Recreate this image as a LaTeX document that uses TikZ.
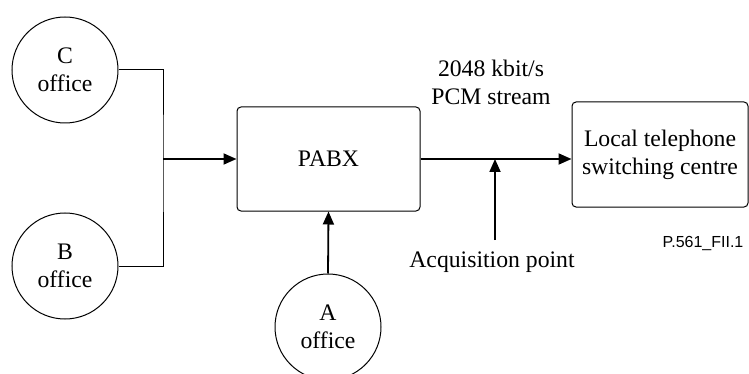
\documentclass[tikz,border=0pt]{standalone}
\usepackage{fontspec}
\setmainfont{Liberation Serif}
\newfontfamily\figsans{Liberation Sans}
\usetikzlibrary{arrows.meta}

\tikzset{
  office/.style={draw, circle, line width=1pt, minimum size=106pt, inner sep=0pt, align=center},
  unit/.style={draw, rounded corners=4pt, line width=1pt, align=center},
  feed/.style={line width=1.8pt, -{Triangle[length=13pt,width=11pt]}},
  wire/.style={line width=1pt}
}

\begin{document}
\begin{tikzpicture}[x=1pt, y=-1pt, font=\fontsize{23.7}{28}\selectfont]
  \clip (0,0) rectangle (749,374);
  \useasboundingbox (0,0) rectangle (749,374);

  % Nebenstellen
  \node[office] (cOff) at (65,70) {C\\office};
  \node[office] (bOff) at (65,266) {B\\office};
  \node[office] (aOff) at (328,327) {A\\office};

  % Anlage und Vermittlung
  \node[unit, minimum width=183pt, minimum height=104pt] (pabx) at (328.5,159) {PABX};
  \node[unit, minimum width=176pt, minimum height=105pt] (ltsc) at (660,154.5) {Local telephone\\switching centre};

  % C und B zusammenfuehren
  \coordinate (join) at (163,159);
  \draw[wire] (cOff.east) -| (join) |- (bOff.east);
  \draw[feed] (join) -- (pabx.west);
  \draw[feed] (aOff.north) -- (pabx.south);

  % PCM-Strecke mit Messpunkt
  \draw[feed] (pabx.east) -- (pabx.east -| ltsc.west);
  \coordinate (acq) at (495,240);
  \draw[feed] (acq) -- (acq |- pabx.east);
  \node (acqtxt) at (492,262.5) {Acquisition point};
  \node[align=center] (rate) at (491,82) {2048 kbit/s\\PCM stream};

  \node[font=\figsans\fontsize{16}{18}\selectfont, anchor=base] (figid) at (703,247) {P.561\_FII.1};
\end{tikzpicture}
\end{document}
